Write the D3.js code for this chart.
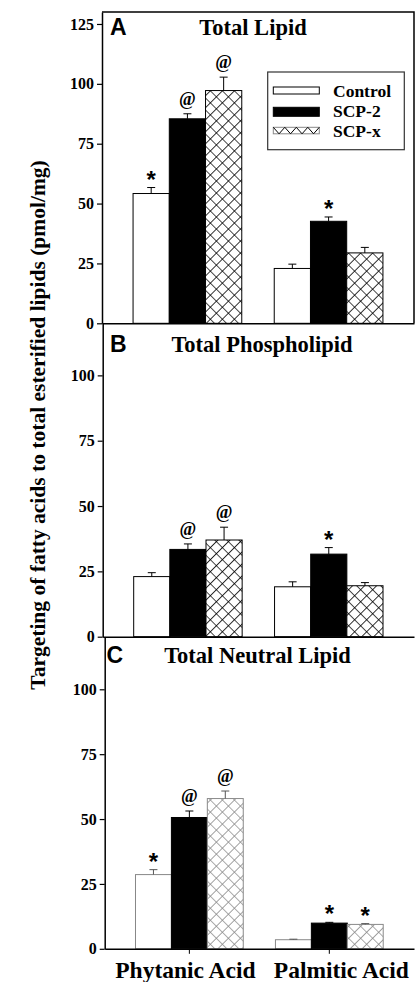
<!DOCTYPE html>
<html>
<head>
<meta charset="utf-8">
<script src="https://cdn.jsdelivr.net/npm/d3@7"></script>
<style>
  html, body { margin: 0; padding: 0; background: #fff; }
  svg { display: block; }
  .serif { font-family: "Liberation Serif", "Times New Roman", serif; font-weight: bold; }
  .sans { font-family: "Liberation Sans", Arial, sans-serif; font-weight: bold; }
</style>
</head>
<body>
<script>
// Categories and series
const categories = ["Phytanic Acid", "Palmitic Acid"];
const series = ["Control", "SCP-2", "SCP-x"];
const panelLetters = ["A", "B", "C"];
const panelTitles = ["Total Lipid", "Total Phospholipid", "Total Neutral Lipid"];
const yLabel = "Targeting of fatty acids to total esterified lipids (pmol/mg)";

// Values per category: [Control, SCP-2, SCP-x]
const totalLipid      = [[54.2, 85.4, 97.2], [22.9, 42.6, 29.4]];
const totalLipidErr   = [[2.5, 2.1, 5.6],    [1.8, 1.8, 2.3]];
const totalLipidSig   = [["*", "@", "@"],    ["", "*", ""]];

const phospholipid    = [[23.0, 33.4, 37.0], [19.1, 31.6, 19.5]];
const phospholipidErr = [[1.5, 2.1, 4.9],    [1.9, 2.5, 1.2]];
const phospholipidSig = [["", "@", "@"],     ["", "*", ""]];

const neutralLipid    = [[28.6, 50.6, 57.9], [3.5, 9.9, 9.4]];
const neutralLipidErr = [[1.9, 2.5, 2.9],    [0.2, 0.3, 0.3]];
const neutralLipidSig = [["*", "@", "@"],    ["", "*", "*"]];

// Tick values
const ticksA = [0, 25, 50, 75, 100, 125];
const ticksBC = [0, 25, 50, 75, 100];

const W = 416, H = 982;
const svg = d3.select("body").append("svg").attr("width", W).attr("height", H);

// Cross-hatch fills
const defs = svg.append("defs");
function hatch(id, color) {
  const p = defs.append("pattern")
    .attr("id", id)
    .attr("patternUnits", "userSpaceOnUse")
    .attr("width", 8.5).attr("height", 8.5)
    .attr("patternTransform", "rotate(45)");
  p.append("rect").attr("width", 8.5).attr("height", 8.5).attr("fill", "#fff");
  p.append("path").attr("d", "M0,0H8.5M0,0V8.5")
    .attr("stroke", color).attr("stroke-width", 1.6).attr("fill", "none");
}
hatch("hatch-dark", "#000");
hatch("hatch-gray", "#8a8a8a");

const right = 414;
const panels = [
  { letter: panelLetters[0], title: panelTitles[0], values: totalLipid, errors: totalLipidErr, sig: totalLipidSig,
    ticks: ticksA, yMax: 130, left: 102, top: 12, base: 323.3, frame: true,
    stroke: ["#000", "#000", "#000"], hatchId: "hatch-dark", errColor: ["#000", "#000", "#000"],
    letterX: 110, titleX: 253, headY: 35, xLabels: false },
  { letter: panelLetters[1], title: panelTitles[1], values: phospholipid, errors: phospholipidErr, sig: phospholipidSig,
    ticks: ticksBC, yMax: 120, left: 102.7, top: 323.1, base: 636.7, frame: false,
    stroke: ["#000", "#000", "#000"], hatchId: "hatch-dark", errColor: ["#000", "#000", "#000"],
    letterX: 110, titleX: 262, headY: 352, xLabels: false },
  { letter: panelLetters[2], title: panelTitles[2], values: neutralLipid, errors: neutralLipidErr, sig: neutralLipidSig,
    ticks: ticksBC, yMax: 120, left: 104.7, top: 637.4, base: 948.8, frame: false,
    stroke: ["#888", "#000", "#8a8a8a"], hatchId: "hatch-gray", errColor: ["#555", "#000", "#555"],
    letterX: 106.5, titleX: 257.5, headY: 663, xLabels: true }
];

panels.forEach(p => {
  const g = svg.append("g");
  const x0 = d3.scaleBand().domain(categories).range([p.left, right])
    .paddingInner(0.23).paddingOuter(0.22);
  const x1 = d3.scaleBand().domain(series).range([0, x0.bandwidth()]);
  const y = d3.scaleLinear().domain([0, p.yMax]).range([p.base, p.top]);

  // Bars
  const fills = ["#fff", "#000", `url(#${p.hatchId})`];
  categories.forEach((cat, ci) => {
    series.forEach((s, si) => {
      const v = p.values[ci][si];
      const e = p.errors[ci][si];
      const bx = x0(cat) + x1(s);
      const bw = x1.bandwidth();
      g.append("rect")
        .attr("x", bx).attr("y", y(v))
        .attr("width", bw).attr("height", y(0) - y(v))
        .attr("fill", fills[si])
        .attr("stroke", p.stroke[si]).attr("stroke-width", 1);
      // Upper error bar with cap
      const cx = bx + bw / 2;
      g.append("line")
        .attr("x1", cx).attr("x2", cx).attr("y1", y(v)).attr("y2", y(v + e))
        .attr("stroke", p.errColor[si]).attr("stroke-width", 1);
      g.append("line")
        .attr("x1", cx - 4).attr("x2", cx + 4).attr("y1", y(v + e)).attr("y2", y(v + e))
        .attr("stroke", p.errColor[si]).attr("stroke-width", 1);
      // Significance marker
      const mark = p.sig[ci][si];
      if (mark) {
        g.append("text").attr("class", mark === "@" ? "serif" : "sans")
          .attr("x", cx)
          .attr("y", y(v + e) - (mark === "@" ? 9 : 0))
          .attr("text-anchor", "middle")
          .attr("font-size", mark === "@" ? 18 : 24)
          .text(mark);
      }
    });
  });

  // Y axis
  const yAxis = g.append("g").attr("transform", `translate(${p.left},0)`)
    .call(d3.axisLeft(y).tickValues(p.ticks).tickSize(5).tickSizeOuter(0).tickPadding(3));
  yAxis.select(".domain").attr("stroke-width", 1.5);
  yAxis.selectAll(".tick line").attr("stroke-width", 1.2);
  yAxis.selectAll(".tick text").attr("class", "serif").attr("font-size", 16).attr("fill", "#000");

  // X axis
  const xAxis = g.append("g").attr("transform", `translate(0,${p.base})`)
    .call(d3.axisBottom(x0).tickSize(p.xLabels ? 5 : 0).tickSizeOuter(0).tickPadding(8));
  xAxis.select(".domain").attr("stroke-width", 1.5);
  if (p.xLabels) {
    xAxis.selectAll(".tick text").attr("class", "serif").attr("font-size", 23.5)
      .attr("fill", "#000").attr("dx", (d, i) => i === 0 ? -4 : 12);
  } else {
    xAxis.selectAll(".tick text").remove();
  }

  // Frame (top and right edge) around the first panel
  if (p.frame) {
    g.append("path")
      .attr("d", `M${p.left},${p.top}H${right}V${p.base}`)
      .attr("fill", "none").attr("stroke", "#000").attr("stroke-width", 1.5);
  }

  // Panel letter and title
  g.append("text").attr("class", "sans").attr("x", p.letterX).attr("y", p.headY)
    .attr("font-size", 23).text(p.letter);
  g.append("text").attr("class", "serif").attr("x", p.titleX).attr("y", p.headY)
    .attr("text-anchor", "middle").attr("font-size", 22.5).text(p.title);
});

// Legend in panel A
const leg = svg.append("g");
leg.append("rect").attr("x", 267.7).attr("y", 72).attr("width", 136.6).attr("height", 77.7)
  .attr("fill", "#fff").attr("stroke", "#333").attr("stroke-width", 1.2);
const legRows = [
  { y: 87, h: 7, base: 97.3 },
  { y: 107.3, h: 9, base: 117.3 },
  { y: 127.3, h: 6.5, base: 137 }
];
series.forEach((s, i) => {
  const r = legRows[i];
  if (i === 2) {
    leg.append("rect").attr("x", 273.3).attr("y", r.y).attr("width", 46).attr("height", r.h)
      .attr("fill", "#fff").attr("stroke", "#888").attr("stroke-width", 1);
    const n = 4, step = 46 / n;
    const pts = [];
    for (let k = 0; k <= n; k++) {
      pts.push([273.3 + k * step, r.y]);
      if (k < n) pts.push([273.3 + k * step + step / 2, r.y + r.h]);
    }
    leg.append("path").attr("d", d3.line()(pts)).attr("fill", "none")
      .attr("stroke", "#000").attr("stroke-width", 1);
  } else {
    leg.append("rect").attr("x", 273.3).attr("y", r.y).attr("width", 46).attr("height", r.h)
      .attr("fill", i === 0 ? "#fff" : "#000").attr("stroke", "#000").attr("stroke-width", 1);
  }
  leg.append("text").attr("class", "serif").attr("x", 333).attr("y", r.base)
    .attr("font-size", 17.5).text(s);
});

// Shared y-axis title
svg.append("text").attr("class", "serif")
  .attr("transform", "translate(45,425) rotate(-90)")
  .attr("text-anchor", "middle").attr("font-size", 21.5)
  .text(yLabel);
</script>
</body>
</html>
